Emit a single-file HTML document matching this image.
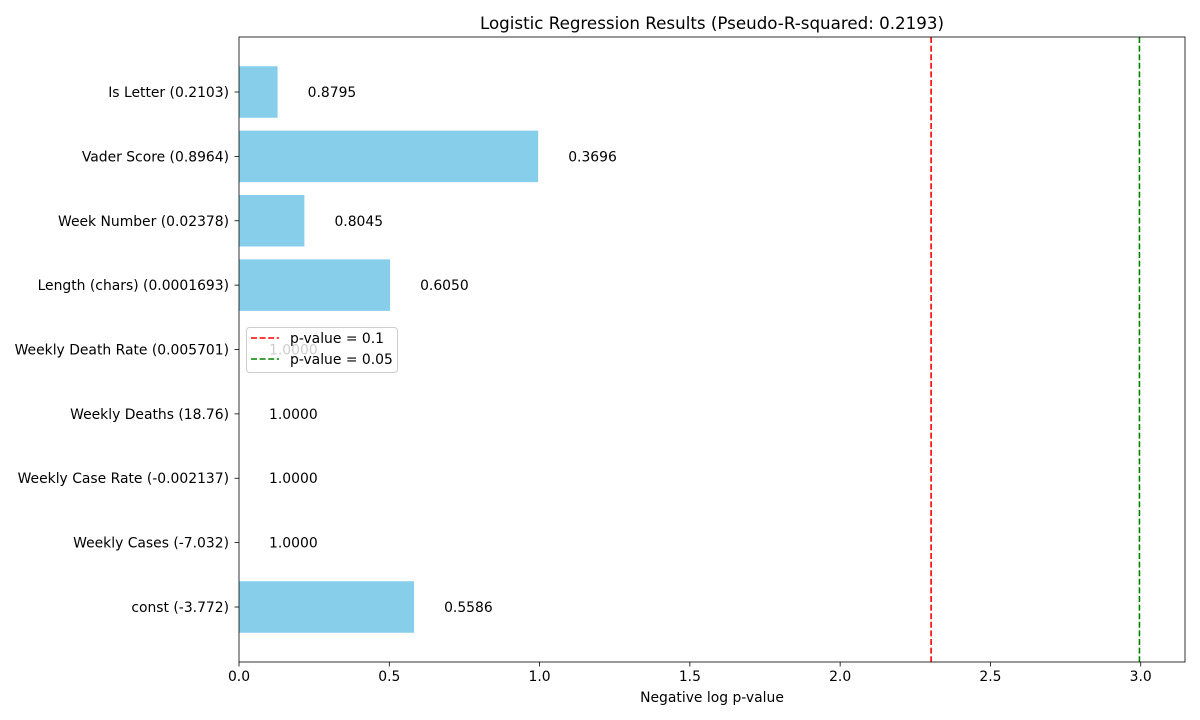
<!DOCTYPE html>
<html><head><meta charset="utf-8"><style>
body{margin:0;background:#fff;}
svg{display:block;font-family:"DejaVu Sans","Liberation Sans",sans-serif;}
</style></head><body>
<svg id="chart" width="1200" height="720"></svg>
<script>
const categories=["const (-3.772)","Weekly Cases (-7.032)","Weekly Case Rate (-0.002137)","Weekly Deaths (18.76)","Weekly Death Rate (0.005701)","Length (chars) (0.0001693)","Week Number (0.02378)","Vader Score (0.8964)","Is Letter (0.2103)"];
const pValues=[0.5586,1.0,1.0,1.0,1.0,0.6050,0.8045,0.3696,0.8795];
const xTicks=[0,0.5,1.0,1.5,2.0,2.5,3.0];
const xTickLabels=["0.0","0.5","1.0","1.5","2.0","2.5","3.0"];
const thresholds=[0.1,0.05];
const thresholdColors=["red","green"];

const NS="http://www.w3.org/2000/svg";
const svg=document.getElementById('chart');
const L=239,R=1185,T=37,B=662,XMAX=3.1473;
const FS=13.9;
const xs=v=>L+v/XMAX*(R-L);
const n=categories.length;
const YMIN=-0.8544, YMAX=(n-1)+0.8544;
const ys=i=>B-(i-YMIN)/(YMAX-YMIN)*(B-T);
const bandPx=(B-T)/(YMAX-YMIN);
function el(tag,attrs,parent){const e=document.createElementNS(NS,tag);for(const k in attrs)e.setAttribute(k,attrs[k]);(parent||svg).appendChild(e);return e;}

const bars=el('g',{});


pValues.forEach((p,i)=>{
  const v=-Math.log(p);
  const cy=ys(i);
  const r=el('rect',{x:L,y:cy-0.4*bandPx,width:Math.max(0,xs(v)-L),height:0.8*bandPx,fill:'#87ceeb'},bars);
  
  
  const t=el('text',{x:xs(v+0.1),y:cy+5,'font-size':FS,fill:'#000'},bars);
  t.textContent=p.toFixed(4);
  
  
  const yl=el('text',{x:L-10,y:cy+5,'font-size':FS,'text-anchor':'end'});
  yl.textContent=categories[i];
  
  
  el('line',{x1:L-4.5,x2:L,y1:cy,y2:cy,stroke:'#000','stroke-width':0.8});
});
thresholds.forEach((p,k)=>{
  const x=xs(-Math.log(p));
  const ln=el('line',{x1:x,x2:x,y1:T,y2:B,stroke:thresholdColors[k],'stroke-width':1.6,'stroke-dasharray':'6,2.6'});
  
  
});
xTicks.forEach((v,i)=>{
  el('line',{x1:xs(v),x2:xs(v),y1:B,y2:B+4.5,stroke:'#000','stroke-width':0.8});
  const t=el('text',{x:xs(v),y:B+19,'font-size':FS,'text-anchor':'middle'});
  t.textContent=xTickLabels[i];
  
  
});
const frame=el('rect',{x:L,y:T,width:R-L,height:B-T,fill:'none',stroke:'#000','stroke-width':0.8});


const xt=el('text',{x:(L+R)/2,y:702,'font-size':FS,'text-anchor':'middle'});
xt.textContent='Negative log p-value';


const title=el('text',{x:(L+R)/2,y:29,'font-size':16.7,'text-anchor':'middle'});
title.textContent='Logistic Regression Results (Pseudo-R-squared: 0.2193)';


const lg=el('g',{});


el('rect',{x:246.5,y:327.5,width:151,height:45,rx:3,fill:'#fff','fill-opacity':0.8,stroke:'#ccc'},lg);
thresholds.forEach((p,k)=>{
  const y=338+k*21;
  el('line',{x1:251,x2:279,y1:y,y2:y,stroke:thresholdColors[k],'stroke-width':1.6,'stroke-dasharray':'6,2.6'},lg);
  const t=el('text',{x:290,y:y+5,'font-size':FS},lg);
  t.textContent='p-value = '+p;
  
  
});
</script>
</body></html>
